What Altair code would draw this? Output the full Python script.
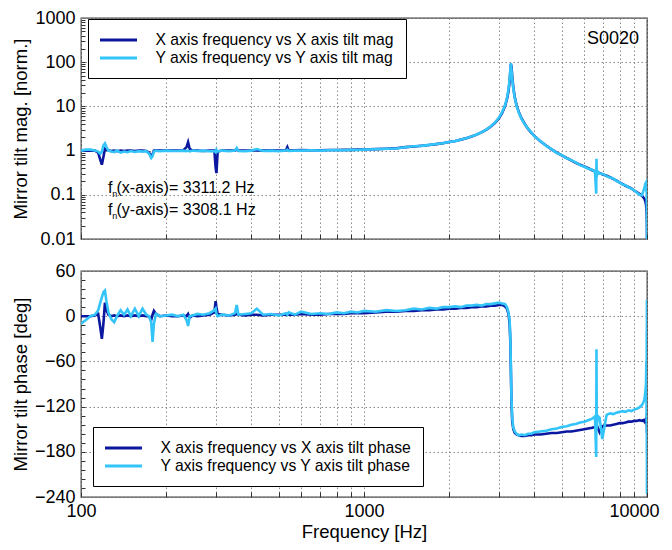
import altair as alt
import pandas as pd

# ---------------- data ----------------
freq = [
    100, 104, 108, 112, 115, 117, 118.5, 120, 121.5, 123,
    125, 128, 131, 134, 138, 142, 146, 150, 155, 160,
    165, 170, 174, 177, 179, 181, 184, 190, 200, 210,
    220, 230, 236, 239, 242, 248, 258, 270, 285, 296,
    299, 301, 304, 315, 335, 350, 355, 360, 380, 400,
    418, 440, 470, 500, 530, 536, 542, 570, 600, 650,
    700, 750, 800, 850, 900, 950, 1000, 1100, 1200, 1300,
    1400, 1500, 1600, 1700, 1800, 1900, 2000, 2100, 2200, 2300,
    2400, 2500, 2600, 2700, 2800, 2900, 3000, 3080, 3150, 3200,
    3240, 3270, 3290, 3305, 3320, 3340, 3370, 3410, 3460, 3520,
    3600, 3700, 3800, 3900, 4000, 4200, 4400, 4600, 4800, 5000,
    5200, 5400, 5600, 5800, 6000, 6200, 6400, 6550, 6615, 6630,
    6645, 6680, 6800, 6950, 7200, 7400, 7600, 7800, 8000, 8200,
    8400, 8600, 8800, 9000, 9200, 9400, 9600, 9700, 9800, 9870,
    9920, 9950, 9970, 9980, 9988, 9993, 9996, 9998, 9999, 10000,
]

mag_x = [
    1.0, 1.0, 1.0, 1.0, 0.9, 0.62, 0.48, 0.72, 1.1, 1.05,
    1.0, 0.98, 1.0, 0.97, 1.0, 0.98, 1.0, 1.0, 0.98, 1.0,
    1.0, 0.98, 0.9, 0.75, 0.82, 1.0, 1.02, 1.0, 1.0, 1.0,
    1.0, 1.02, 1.2, 1.55, 1.1, 1.0, 1.0, 0.98, 1.0, 1.0,
    0.42, 0.31, 0.95, 1.0, 1.0, 1.0, 1.05, 1.0, 1.0, 1.0,
    1.02, 1.0, 1.02, 1.0, 1.02, 1.2, 1.0, 1.02, 1.03, 1.02,
    1.02, 1.03, 1.03, 1.04, 1.04, 1.05, 1.06, 1.08, 1.1, 1.13,
    1.2, 1.24, 1.29, 1.34, 1.4, 1.47, 1.56, 1.65, 1.77, 1.9,
    2.08, 2.3, 2.58, 2.95, 3.45, 4.2, 5.4, 7.2, 10.2, 14.5,
    22, 37, 62, 90, 80, 48, 27, 16, 10.7, 7.6,
    5.4, 4.0, 3.1, 2.55, 2.15, 1.62, 1.3, 1.07, 0.9, 0.78,
    0.68, 0.6, 0.53, 0.48, 0.44, 0.4, 0.36, 0.34, 0.335, 0.33,
    0.33, 0.325, 0.31, 0.29, 0.27, 0.25, 0.23, 0.21, 0.19, 0.175,
    0.16, 0.15, 0.14, 0.125, 0.115, 0.105, 0.095, 0.088, 0.08, 0.07,
    0.06, 0.05, 0.04, 0.03, 0.025, 0.02, 0.017, 0.014, 0.012, 0.01,
]

mag_y = [
    1.0, 1.05, 1.05, 1.0, 0.95, 0.85, 0.95, 1.3, 1.45, 1.2,
    1.0, 0.95, 0.92, 1.0, 0.9, 0.95, 0.92, 0.98, 0.93, 0.97,
    0.95, 0.97, 0.85, 0.68, 0.75, 0.95, 1.0, 0.97, 1.0, 0.98,
    0.98, 1.0, 0.97, 1.0, 0.96, 1.0, 0.98, 1.0, 0.97, 0.98,
    0.92, 1.05, 0.95, 1.0, 0.97, 1.0, 1.15, 0.98, 0.97, 1.0,
    1.08, 0.98, 1.0, 0.97, 1.0, 1.05, 0.98, 1.0, 1.0, 1.02,
    1.0, 1.02, 1.03, 1.02, 1.04, 1.03, 1.05, 1.07, 1.1, 1.12,
    1.19, 1.25, 1.28, 1.35, 1.41, 1.46, 1.57, 1.64, 1.78, 1.91,
    2.1, 2.32, 2.6, 2.98, 3.5, 4.3, 5.6, 7.5, 10.6, 15.3,
    24, 42, 70, 95, 68, 42, 25, 15.5, 10.4, 7.4,
    5.3, 3.95, 3.15, 2.6, 2.1, 1.65, 1.28, 1.08, 0.88, 0.79,
    0.67, 0.61, 0.54, 0.47, 0.43, 0.39, 0.37, 0.33, 0.106, 0.65,
    0.25, 0.34, 0.3, 0.3, 0.265, 0.245, 0.235, 0.205, 0.19, 0.17,
    0.165, 0.148, 0.138, 0.127, 0.112, 0.1, 0.098, 0.12, 0.15, 0.18,
    0.19, 0.12, 0.17, 0.06, 0.15, 0.03, 0.1, 0.02, 0.05, 0.01,
]

phase_x = [
    0, 0, 0, 1, 3, -15, -30, -10, 18, 8,
    2, 0, 1, 0, 1, 0, 1, 0, 1, 0,
    1, 0, 0, -5, 2, 7, 3, 0, 1, 0,
    0, 1, 0, 3, -2, 1, 0, 1, 2, 5,
    20, 12, 3, 2, 1, 2, 3, 2, 1, 2,
    2, 1, 2, 2, 2, 3, 2, 2, 3, 2,
    2, 3, 3, 3, 4, 4, 4, 5, 6, 6,
    7, 7, 8, 8, 9, 9, 10, 10, 11, 11,
    12, 12, 13, 13, 14, 14, 15, 15, 13, 10,
    3, -10, -35, -75, -115, -140, -150, -155, -157, -158,
    -159, -159, -158, -158, -157, -157, -156, -155, -155, -154,
    -153, -153, -152, -151, -150, -149, -148, -147, -146, -140,
    -150, -147, -154, -146, -145, -145, -144, -143, -142, -142,
    -141, -140, -140, -139, -139, -138, -139, -138, -140, -137,
    -136, -140, -135, -145, -133, -148, -130, -150, -128, -155,
]

phase_y = [
    -10, -5, 0, 2, 8, 18, 25, 32, 34, 20,
    5, -4, -8, 0, 8, 2, 9, 0, 10, 0,
    10, 2, 0, -8, -34, -10, 3, 0, 1, 2,
    0, 2, -5, -13, 0, 1, 3, 2, 4, 8,
    10, 3, 0, 2, 1, 4, 15, 2, 3, 4,
    10, 2, 3, 1, 4, 2, 5, 2, 6, 3,
    4, 3, 5, 4, 6, 5, 7, 6, 8, 7,
    8, 10, 9, 11, 10, 12, 12, 13, 12, 14,
    14, 15, 14, 16, 16, 17, 18, 17, 16, 12,
    5, -5, -30, -70, -110, -135, -148, -153, -156, -158,
    -157, -158, -156, -156, -154, -153, -152, -150, -149, -147,
    -146, -144, -143, -141, -140, -138, -136, -133, -187, -44,
    -150, -132, -135, -163, -131, -129, -130, -128, -127, -126,
    -127, -125, -126, -124, -123, -121, -118, -115, -110, -100,
    -90, -60, -140, -20, -180, 20, -230, 22, -236, 0,
]

series_mag = ["X axis frequency vs X axis tilt mag", "Y axis frequency vs Y axis tilt mag"]
series_phase = ["X axis frequency vs X axis tilt phase", "Y axis frequency vs Y axis tilt phase"]
series_colors = ["#0a179e", "#33c4f9"]

x_grid = [100, 200, 300, 400, 500, 600, 700, 800, 900,
          1000, 2000, 3000, 4000, 5000, 6000, 7000, 8000, 9000, 10000]
mag_label_ticks = [0.01, 0.1, 1, 10, 100, 1000]
mag_minor_ticks = [0.02, 0.03, 0.04, 0.05, 0.06, 0.07, 0.08, 0.09, 0.1,
                   0.2, 0.3, 0.4, 0.5, 0.6, 0.7, 0.8, 0.9, 1,
                   2, 3, 4, 5, 6, 7, 8, 9, 10,
                   20, 30, 40, 50, 60, 70, 80, 90, 100,
                   200, 300, 400, 500, 600, 700, 800, 900]
phase_label_ticks = [-240, -180, -120, -60, 0, 60]
phase_minor_ticks = [-228, -216, -204, -192, -180, -168, -156, -144, -132, -120,
                     -108, -96, -84, -72, -60, -48, -36, -24, -12, 0,
                     12, 24, 36, 48]

sample_label = ["S0020"]
sample_f = [9380]
sample_v = [343]

fn_sym = ["f", "f"]
fn_sub = ["n", "n"]
fn_rest = ["(x-axis)= 3311.2 Hz", "(y-axis)= 3308.1 Hz"]
fn_sym_f = [124.6, 124.6]
fn_sub_f = [129.0, 129.0]
fn_rest_f = [133.5, 133.5]
fn_v = [0.141, 0.0461]

# ---------------- build tables ----------------
n = len(freq)
df_mag = pd.DataFrame({"f": freq + freq, "v": mag_x + mag_y,
                       "s": [series_mag[0]] * n + [series_mag[1]] * n})
df_phase = pd.DataFrame({"f": freq + freq, "v": phase_x + phase_y,
                         "s": [series_phase[0]] * n + [series_phase[1]] * n})
df_sample = pd.DataFrame({"f": sample_f, "v": sample_v, "t": sample_label})
df_fn = pd.DataFrame({"fs": fn_sym_f, "fb": fn_sub_f, "fr": fn_rest_f, "v": fn_v,
                      "a": fn_sym, "b": fn_sub, "c": fn_rest})

FONT = "Liberation Sans"
W = 566
H_TOP, H_BOT = 221, 226
x_scale = alt.Scale(type="log", domain=[100, 10000], nice=False)
mag_scale = alt.Scale(type="log", domain=[0.01, 1000], nice=False)
phase_scale = alt.Scale(domain=[-240, 60], nice=False)


def make_legend(lx, ly):
    return alt.Legend(title=None, orient="none", legendX=lx, legendY=ly, direction="vertical",
                      symbolType="M-2.5,0H2.5", symbolSize=219, symbolStrokeWidth=3,
                      symbolOffset=9.5, labelOffset=28, labelFont=FONT, labelFontSize=15.7,
                      labelColor="black", labelLimit=500, padding=12, rowPadding=1,
                      strokeColor="black", fillColor="white", cornerRadius=0)


def panel(df, yscale, ylabels, yexpr, ytitle, yminor, series, lx, ly, bottom):
    xaxis_lab = alt.Axis(orient="bottom", values=x_grid, grid=True, ticks=False, tickSize=0,
                         domain=False, labels=bottom, labelFlush=False, labelOverlap=False,
                         labelExpr="(datum.value == 100 || datum.value == 1000 || datum.value == 10000) ? format(datum.value, 'd') : ''",
                         labelAlign=alt.ExprRef("datum.value == 10000 ? 'right' : 'center'"),
                         labelOffset=alt.ExprRef("datum.value == 10000 ? 12 : 0"),
                         labelPadding=5, title="Frequency [Hz]" if bottom else None, titlePadding=2)
    lines = alt.Chart(df).mark_line(strokeWidth=2.6, clip=True).encode(
        x=alt.X("f:Q", scale=x_scale, axis=xaxis_lab),
        y=alt.Y("v:Q", scale=yscale,
                axis=alt.Axis(orient="left", values=ylabels, grid=True, ticks=False, tickSize=0,
                              domain=False, labelExpr=yexpr, labelPadding=6, title=ytitle,
                              titlePadding=4)),
        color=alt.Color("s:N", scale=alt.Scale(domain=series, range=series_colors),
                        legend=make_legend(lx, ly)),
    )
    ticks = alt.Chart(df).mark_line(strokeOpacity=0).encode(
        x=alt.X("f:Q", scale=x_scale,
                axis=alt.Axis(orient="bottom", values=x_grid, grid=False, labels=False, ticks=True,
                              tickSize=5, offset=-5, domain=False, title=None)),
        y=alt.Y("v:Q", scale=yscale,
                axis=alt.Axis(orient="left", values=yminor, grid=False, labels=False, ticks=True,
                              tickSize=4, offset=-4, domain=False, title=None)),
    )
    return [ticks, lines]


top_layers = panel(df_mag, mag_scale, mag_label_ticks, "format(datum.value, '~g')",
                   "Mirror tilt mag. [norm.]", mag_minor_ticks, series_mag, 7, 1, False)

sample_text = alt.Chart(df_sample).mark_text(align="right", baseline="middle", font=FONT,
                                             fontSize=18, color="black").encode(
    x=alt.X("f:Q", scale=x_scale, axis=None),
    y=alt.Y("v:Q", scale=mag_scale, axis=None),
    text="t:N")
fn_a = alt.Chart(df_fn).mark_text(align="left", baseline="middle", font=FONT, fontSize=16,
                                  color="black").encode(
    x=alt.X("fs:Q", scale=x_scale, axis=None), y=alt.Y("v:Q", scale=mag_scale, axis=None), text="a:N")
fn_b = alt.Chart(df_fn).mark_text(align="left", baseline="middle", font=FONT, fontSize=9,
                                  color="black", dy=6).encode(
    x=alt.X("fb:Q", scale=x_scale, axis=None), y=alt.Y("v:Q", scale=mag_scale, axis=None), text="b:N")
fn_c = alt.Chart(df_fn).mark_text(align="left", baseline="middle", font=FONT, fontSize=16,
                                  color="black").encode(
    x=alt.X("fr:Q", scale=x_scale, axis=None), y=alt.Y("v:Q", scale=mag_scale, axis=None), text="c:N")

top = alt.layer(*top_layers, sample_text, fn_a, fn_b, fn_c).resolve_axis(
    x="independent", y="independent").properties(width=W, height=H_TOP)

bottom_layers = panel(df_phase, phase_scale, phase_label_ticks, "format(datum.value, 'd')",
                      "Mirror tilt phase [deg]", phase_minor_ticks, series_phase, 12, 156, True)
bottom = alt.layer(*bottom_layers).resolve_axis(
    x="independent", y="independent").properties(width=W, height=H_BOT)

chart = alt.vconcat(top, bottom, spacing=12).resolve_scale(
    color="independent", x="independent", y="independent"
).resolve_legend(color="independent").properties(
    padding={"left": 2, "top": 0, "right": 0, "bottom": 0}
).configure_view(
    stroke="#404040", strokeWidth=1.3
).configure_axis(
    labelFont=FONT, labelFontSize=18, labelColor="black",
    titleFont=FONT, titleFontSize=18.5, titleFontWeight="normal", titleColor="black",
    gridColor="#8a8a8a", gridDash=[1.5, 2.5], gridWidth=1, gridOpacity=1,
    tickColor="#333333", tickWidth=1
)

chart.save("out.html", embed_options={"renderer": "svg", "actions": False})
